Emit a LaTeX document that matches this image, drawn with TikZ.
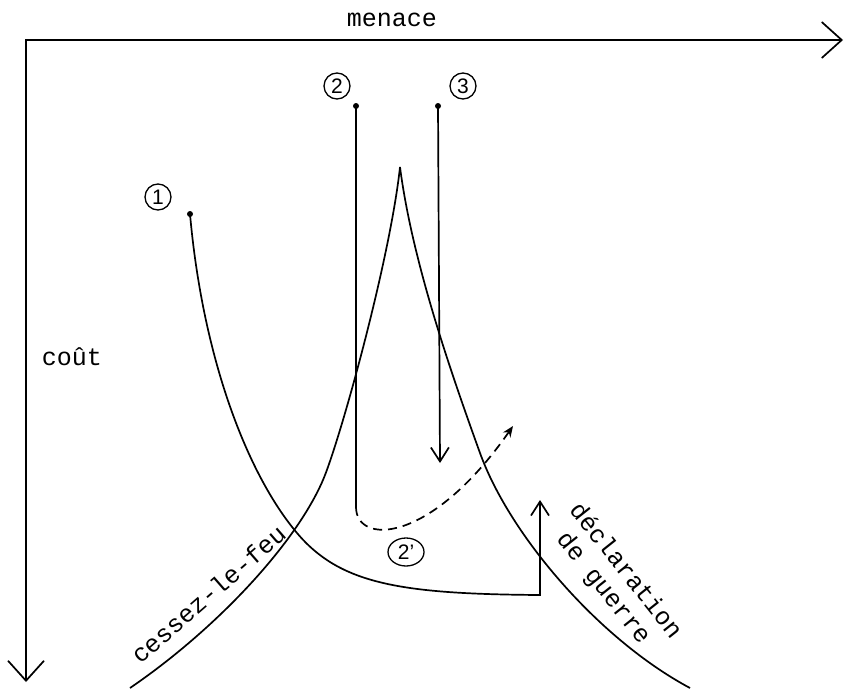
\documentclass[tikz,border=0pt]{standalone}
\usepackage{fontspec}
\setmonofont{Liberation Mono}
\setsansfont{Liberation Sans}
\usetikzlibrary{arrows.meta, shapes.geometric}

\begin{document}
\begin{tikzpicture}[
        x=1pt, y=-1pt,
        lbl/.style={font=\ttfamily\fontsize{25}{28}\selectfont, inner sep=0pt},
        num/.style={ellipse, draw, line width=1.3pt, inner sep=1pt, minimum width=26pt, minimum height=26pt, font=\sffamily\fontsize{21}{21}\selectfont},
        dot/.style={circle, fill, inner sep=0pt, minimum size=6pt},
        curve/.style={line width=1.7pt},
        axis/.style={curve, {Straight Barb[length=20pt,width=36pt]}-{Straight Barb[length=20pt,width=36pt]}},
        arrow/.style={curve, -{Straight Barb[length=14pt,width=18pt]}},
        dasharrow/.style={curve, dash pattern=on 9pt off 6pt, -{Stealth[length=11pt,width=9pt]}}
    ]
        \useasboundingbox (0,0) rectangle (845,688);

        \coordinate (origin) at (26,40);
        \coordinate (xend) at (843,40);
        \coordinate (yend) at (26,682);
        \coordinate (peak) at (400,167);
        \coordinate (l2end) at (356,507);
        \coordinate (l3end) at (440,463);
        \coordinate (up1) at (540,500);

        \node[lbl] (menace) at (392,20) {menace};
        \node[lbl] (cout) at (72,357) {coût};
        \node[lbl, rotate=41, anchor=base] (cessez) at (214,601) {cessez-le-feu};
        \node[lbl, rotate=-51.5, align=center] (guerre) at (614,580) {déclaration\\de guerre};

        \node[num] (n1) at (158,197) {1};
        \node[num] (n2) at (337,86) {2};
        \node[num] (n3) at (463,86) {3};
        \node[num, minimum width=36pt, minimum height=28pt] (n2b) at (406,552) {2'};

        \node[dot] (d1) at (190,214) {};
        \node[dot] (d2) at (356,106) {};
        \node[dot] (d3) at (438,106) {};

        \draw[axis] (xend) -- (origin) -- (yend);

        % cessez-le-feu / declaration de guerre
        \draw[curve] (130,688) .. controls (215,630) and (295,545) .. (323,480)
                     .. controls (340,440) and (390,260) .. (peak);
        \draw[curve] (peak) .. controls (412,260) and (450,370) .. (480,453)
                     .. controls (510,536) and (600,640) .. (690,688);

        \draw[arrow] (d1.center) .. controls (203,360) and (248,475) .. (297,533)
                     .. controls (340,584) and (400,594) .. (540,595) -- (up1);

        \draw[curve] (d2.center) -- (l2end);
        \draw[arrow] (d3.center) -- (l3end);
        \draw[dasharrow] (l2end) .. controls (356,545) and (430,545) .. (513,426);
    \end{tikzpicture}
\end{document}
